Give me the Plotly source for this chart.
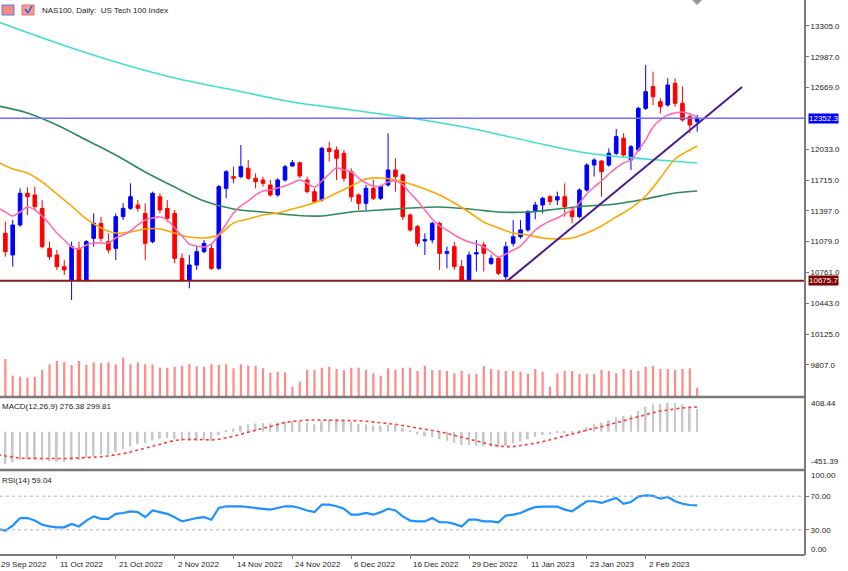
import plotly.graph_objects as go

# bar index 0 = 29 Sep 2022 ... 95 = 13 Feb 2023 (daily bars)
bar_idx = list(range(1, 96))
line_idx = list(range(0, 96))

opens = [11165, 10941, 11251, 11578, 11561, 11423, 11010, 10941, 10821, 10683,
         11010, 10683, 11113, 11268, 11079, 11010, 11337, 11423, 11457, 11371,
         11079, 11543, 11423, 11371, 10907, 10683, 10838, 10976, 11010, 10804,
         11629, 11750, 11750, 11836, 11733, 11716, 11664, 11561, 11715, 11860,
         11894, 11715, 11595, 11509, 12042, 12025, 11991, 11801, 11561, 11475,
         11629, 11526, 11664, 11819, 11767, 11354, 11234, 11086, 11096, 11268,
         10958, 11027, 10821, 10683, 10952, 11045, 10855, 10907, 10718, 11062,
         11130, 11200, 11389, 11457, 11543, 11509, 11543, 11406, 11337, 11612,
         11870, 11911, 11870, 11991, 12146, 11922, 12025, 12455, 12679, 12524,
         12489, 12713, 12507, 12369, 12317]
highs = [11285, 11303, 11629, 11640, 11647, 11509, 11079, 10993, 10890, 11079,
         11079, 11096, 11371, 11337, 11165, 11371, 11475, 11681, 11509, 11475,
         11595, 11578, 11509, 11406, 10958, 10941, 11027, 11096, 11062, 11664,
         11818, 11853, 12077, 11922, 11784, 11750, 11716, 11733, 11870, 11922,
         11905, 11750, 11629, 12059, 12111, 12059, 12025, 11836, 11578, 11664,
         11715, 11664, 12197, 11939, 11784, 11371, 11251, 11165, 11285, 11285,
         11027, 11079, 10890, 10976, 11096, 11079, 10941, 10924, 11079, 11300,
         11300, 11406, 11489, 11543, 11560, 11595, 11681, 11440, 11629, 11887,
         11939, 11922, 12042, 12242, 12197, 12077, 12472, 12902, 12833, 12558,
         12765, 12765, 12679, 12403, 12386]
lows = [10924, 10821, 11234, 11354, 11406, 11010, 10890, 10787, 10735, 10477,
        10666, 10666, 11027, 11079, 10958, 10890, 11303, 11406, 11389, 10890,
        11062, 11371, 11285, 10855, 10666, 10597, 10787, 10958, 10787, 10787,
        11526, 11681, 11733, 11716, 11629, 11647, 11543, 11543, 11698, 11853,
        11733, 11578, 11475, 11492, 11905, 11715, 11698, 11492, 11406, 11406,
        11509, 11509, 11647, 11595, 11303, 11182, 11027, 10941, 11062, 10787,
        10804, 10787, 10666, 10666, 10770, 10770, 10838, 10735, 10675, 11030,
        11110, 11182, 11310, 11371, 11457, 11457, 11337, 11268, 11320, 11595,
        11750, 11543, 11853, 11973, 11956, 11818, 12008, 12438, 12489, 12403,
        12472, 12472, 12317, 12197, 12214]
closes = [10976, 11251, 11578, 11543, 11440, 11027, 10924, 10821, 10787, 11027,
          10683, 11079, 11268, 11113, 10993, 11337, 11423, 11543, 11423, 11062,
          11578, 11406, 11320, 10907, 10683, 10838, 10976, 11062, 10804, 11647,
          11801, 11733, 11853, 11733, 11698, 11681, 11561, 11716, 11853, 11894,
          11757, 11595, 11492, 12042, 12008, 11939, 11733, 11543, 11475, 11629,
          11526, 11647, 11819, 11750, 11337, 11199, 11062, 11100, 11268, 10958,
          10976, 10821, 10683, 10941, 10965, 10958, 10907, 10752, 11027, 11130,
          11200, 11389, 11457, 11526, 11492, 11543, 11440, 11337, 11612, 11870,
          11922, 11801, 11991, 12163, 11973, 12059, 12455, 12627, 12575, 12472,
          12696, 12507, 12335, 12283, 12352.3]
volume = [370, 203, 193, 183, 193, 260, 317, 350, 343, 310,
          350, 310, 337, 327, 337, 317, 383, 317, 337, 317,
          317, 283, 283, 293, 303, 323, 297, 293, 317, 310,
          317, 277, 317, 303, 300, 277, 233, 243, 237, 93,
          143, 260, 260, 283, 293, 270, 260, 283, 283, 260,
          227, 203, 277, 260, 283, 283, 250, 303, 260, 260,
          250, 227, 250, 220, 220, 300, 270, 260, 250, 250,
          243, 220, 270, 243, 93, 227, 250, 250, 220, 220,
          220, 260, 250, 227, 270, 260, 250, 293, 300, 270,
          270, 260, 270, 277, 83]

ma_fast = [11426, 11385, 11344, 11385, 11437, 11406, 11344, 11261, 11168, 11096,
           11024, 11003, 11045, 11065, 11065, 11065, 11117, 11148, 11189, 11251,
           11303, 11323, 11334, 11303, 11220, 11137, 11055, 11034, 11024, 11055,
           11148, 11261, 11375, 11447, 11499, 11561, 11602, 11612, 11633, 11653,
           11684, 11715, 11684, 11643, 11705, 11777, 11839, 11819, 11798, 11736,
           11684, 11653, 11653, 11695, 11705, 11664, 11581, 11499, 11406, 11313,
           11241, 11199, 11148, 11107, 11076, 11055, 11024, 10972, 10921, 10952,
           10993, 11034, 11117, 11199, 11251, 11292, 11323, 11365, 11406, 11478,
           11571, 11643, 11705, 11777, 11839, 11891, 11922, 12025, 12128, 12262,
           12335, 12386, 12407, 12417, 12397, 12366]
ma20_idx = list(range(0, 96, 2)) + [95]
ma20 = [11901, 11829, 11788, 11695, 11571, 11447, 11313, 11220, 11168, 11179,
        11210, 11210, 11168, 11127, 11117, 11148, 11272, 11313, 11354, 11375,
        11416, 11457, 11509, 11581, 11653, 11726, 11736, 11715, 11674, 11623,
        11561, 11478, 11385, 11282, 11220, 11168, 11148, 11117, 11107, 11117,
        11168, 11241, 11334, 11426, 11550, 11736, 11932, 12025, 12066]
ma50_idx = list(range(0, 96, 4)) + [95]
ma50 = [12479, 12407, 12283, 12128, 11973, 11798, 11643, 11499, 11416, 11385,
        11354, 11344, 11385, 11406, 11426, 11437, 11416, 11385, 11385, 11416,
        11447, 11468, 11519, 11581, 11602]
ma200_idx = list(range(0, 96, 8)) + [95]
ma200 = [13346, 13129, 12933, 12768, 12644, 12520, 12438, 12355, 12252, 12118,
         11994, 11932, 11891]

macd_main = [-400, -390, -370, -340, -330, -330, -345, -355, -365, -370,
             -345, -345, -320, -290, -280, -275, -245, -210, -175, -150,
             -140, -105, -85, -75, -90, -110, -115, -110, -100, -110,
             -40, 10, 40, 70, 90, 100, 105, 100, 110, 120,
             130, 125, 110, 90, 125, 150, 160, 150, 120, 95,
             90, 75, 75, 85, 85, 50, 10, -30, -55, -65,
             -90, -110, -135, -160, -165, -170, -170, -180, -190, -170,
             -140, -120, -90, -65, -40, -30, -15, -10, -10, 15,
             55, 90, 110, 140, 175, 190, 200, 250, 300, 330,
             340, 350, 350, 330, 305, 276.38]
macd_signal = [-280, -295, -310, -320, -323, -325, -325, -325, -325, -324,
               -323, -320, -316, -310, -303, -292, -280, -265, -245, -222,
               -200, -175, -150, -125, -105, -95, -92, -93, -97, -100,
               -92, -75, -55, -30, -5, 20, 40, 65, 90, 112,
               125, 135, 140, 142, 142, 142, 142, 141, 138, 133,
               126, 118, 110, 100, 90, 75, 60, 45, 38, 20,
               0, -20, -40, -65, -90, -115, -141, -158, -172, -181,
               -180, -170, -155, -141, -120, -100, -75, -50, -30, -5,
               20, 45, 61, 85, 110, 135, 160, 182, 205, 230,
               250, 265, 280, 288, 295, 299.81]
rsi = [31, 29, 35, 44, 44, 41, 36, 34, 33, 33,
       37, 34, 41, 46, 43, 43, 49, 50, 52, 51,
       45, 53, 51, 49, 45, 40, 42, 44, 45, 42,
       56, 58, 58, 58, 57, 56, 55, 54, 56, 58,
       58, 56, 53, 51, 60, 60, 58, 55, 48, 48,
       50, 48, 51, 55, 53, 46, 41, 40, 40, 44,
       39, 39, 37, 34, 42, 42, 40, 40, 39, 47,
       48, 50, 54, 57, 57.5, 57.5, 57.5, 54, 52, 58,
       64, 64, 62, 65, 68, 61, 63, 69.5, 71, 70.5,
       67, 69, 64, 61, 59.5, 59.04]

level_blue = 12352.3
level_red = 10675.7
trend_x = [69.2, 101.1]
trend_y = [10673, 12675]

price_ticks = [13305, 12987, 12669, 12033, 11715, 11397, 11079, 10761, 10443, 10125, 9807]
date_idx = [0, 8, 16, 24, 32, 40, 48, 56, 64, 72, 80, 88]
date_labels = ["29 Sep 2022", "11 Oct 2022", "21 Oct 2022", "2 Nov 2022", "14 Nov 2022",
               "24 Nov 2022", "6 Dec 2022", "16 Dec 2022", "29 Dec 2022", "11 Jan 2023",
               "23 Jan 2023", "2 Feb 2023"]

X_RANGE = [0.272, 109.65]
H = 555.0  # plot area height in px
FONT = "Liberation Sans"
TXT = "#222222"


def py(px):
    # pixel row inside plot area -> paper y
    return (H - px) / H


fig = go.Figure()

fig.add_trace(go.Bar(x=bar_idx, y=volume, width=0.3, marker_color="#ff8a8a",
                     marker_line_width=0, yaxis="y4"))
fig.add_trace(go.Candlestick(
    x=bar_idx, open=opens, high=highs, low=lows, close=closes,
    increasing=dict(line=dict(color="#0000ff", width=1), fillcolor="#0000ff"),
    decreasing=dict(line=dict(color="#ff0000", width=1), fillcolor="#ff0000"),
    whiskerwidth=0, yaxis="y"))

for xs, ys, col in [(ma200_idx, ma200, "#40e0d0"), (ma50_idx, ma50, "#2e8b57"),
                    (ma20_idx, ma20, "#ffa500"), (line_idx, ma_fast, "#ff6eb4")]:
    fig.add_trace(go.Scatter(x=xs, y=ys, mode="lines", yaxis="y",
                             line=dict(color=col, width=1.6, shape="spline")))

fig.add_trace(go.Scatter(x=trend_x, y=trend_y, mode="lines", yaxis="y",
                         line=dict(color="#4b1c8c", width=2)))

fig.add_trace(go.Bar(x=line_idx, y=macd_main, width=0.25, marker_color="#c8c8c8",
                     marker_line_width=0, yaxis="y2"))
fig.add_trace(go.Scatter(x=line_idx, y=macd_signal, mode="lines", yaxis="y2",
                         line=dict(color="#ff3c3c", width=1.6, dash="dot")))

fig.add_trace(go.Scatter(x=line_idx, y=rsi, mode="lines", yaxis="y3",
                         line=dict(color="#1e90ff", width=2.2)))

shapes = [
    dict(type="line", xref="paper", yref="y", x0=0, x1=1, y0=level_blue, y1=level_blue,
         line=dict(color="#7070ff", width=1.5)),
    dict(type="line", xref="paper", yref="y", x0=0, x1=1, y0=level_red, y1=level_red,
         line=dict(color="#8b1a1a", width=2)),
    dict(type="line", xref="paper", yref="y3", x0=0, x1=1, y0=70, y1=70,
         line=dict(color="#b4b4b4", width=1, dash="dot")),
    dict(type="line", xref="paper", yref="y3", x0=0, x1=1, y0=30, y1=30,
         line=dict(color="#b4b4b4", width=1, dash="dot")),
    # panel separators and frame
    dict(type="line", xref="paper", yref="paper", x0=0, x1=1, y0=py(397), y1=py(397),
         line=dict(color="#7a7a7a", width=2.5)),
    dict(type="line", xref="paper", yref="paper", x0=0, x1=1, y0=py(470), y1=py(470),
         line=dict(color="#7a7a7a", width=2.5)),
    dict(type="line", xref="paper", yref="paper", x0=0, x1=1, y0=0, y1=0,
         line=dict(color="#7a7a7a", width=2)),
    dict(type="line", xref="paper", yref="paper", x0=1, x1=1, y0=0, y1=1,
         line=dict(color="#7a7a7a", width=2)),
    # header icons
    dict(type="rect", xref="paper", yref="paper", x0=2 / 805, x1=14 / 805, y0=py(15), y1=py(5),
         fillcolor="#f08a8a", line=dict(color="#5a7adf", width=1)),
    dict(type="rect", xref="paper", yref="paper", x0=22 / 805, x1=34 / 805, y0=py(15), y1=py(5),
         fillcolor="#f29a9a", line=dict(color="#e07070", width=1)),
    dict(type="line", xref="paper", yref="paper", x0=25 / 805, x1=28 / 805, y0=py(9), y1=py(13),
         line=dict(color="#3060d0", width=1.5)),
    dict(type="line", xref="paper", yref="paper", x0=28 / 805, x1=32 / 805, y0=py(13), y1=py(6),
         line=dict(color="#3060d0", width=1.5)),
    # small grey marker at the top edge
    dict(type="path", xref="paper", yref="paper",
         path=f"M {692 / 805} {py(0)} L {702 / 805} {py(0)} L {697 / 805} {py(5)} Z",
         fillcolor="#9a9a9a", line=dict(width=0)),
]

ann = [
    dict(text="NAS100, Daily:  US Tech 100 Index", x=40 / 805, y=py(10.5)),
    dict(text="MACD(12,26,9) 276.38 299.81", x=0, y=py(406.5)),
    dict(text="RSI(14) 59.04", x=0, y=py(480)),
]
annotations = []
for a in ann:
    annotations.append(dict(xref="paper", yref="paper", xanchor="left", yanchor="middle",
                            showarrow=False, font=dict(family=FONT, size=8, color=TXT), **a))

for txt, ypx in [("408.44", 403), ("-451.39", 462), ("100.00", 475), ("0.00", 549)]:
    annotations.append(dict(text=txt, xref="paper", yref="paper", x=1, y=py(ypx), xshift=4,
                            xanchor="left", yanchor="middle", showarrow=False,
                            font=dict(family=FONT, size=8, color=TXT)))

for lvl, bg in [(level_blue, "#0000ff"), (level_red, "#800000")]:
    annotations.append(dict(text=f"{lvl:.1f}", xref="paper", yref="y", x=1, y=lvl, xshift=3,
                            xanchor="left", yanchor="middle", showarrow=False, bgcolor=bg,
                            borderpad=0, font=dict(family=FONT, size=8, color="white")))

span = X_RANGE[1] - X_RANGE[0]
for i, lab in zip(date_idx, date_labels):
    annotations.append(dict(text=lab, xref="paper", yref="paper", x=(i - X_RANGE[0]) / span,
                            y=py(564), xshift=1, xanchor="left", yanchor="middle",
                            showarrow=False, font=dict(family=FONT, size=8, color=TXT)))

axis_font = dict(family=FONT, size=8, color=TXT)
fig.update_layout(
    width=848, height=571,
    margin=dict(l=0, r=43, t=0, b=16),
    paper_bgcolor="white", plot_bgcolor="white",
    showlegend=False,
    shapes=shapes, annotations=annotations,
    xaxis=dict(domain=[0, 1], range=X_RANGE, anchor="y3", rangeslider=dict(visible=False),
               tickvals=date_idx, showticklabels=False, ticks="outside", ticklen=3,
               tickcolor="#7a7a7a", showgrid=False, zeroline=False),
    yaxis=dict(domain=[py(396), 1], range=[9486, 13573], side="right", anchor="x",
               tickvals=price_ticks, ticktext=[f"{t}.0" for t in price_ticks],
               ticks="outside", ticklen=3, tickcolor="#7a7a7a", tickfont=axis_font,
               showgrid=False, zeroline=False),
    yaxis4=dict(overlaying="y", range=[0, 3960], visible=False),
    yaxis2=dict(domain=[py(469), py(398)], range=[-451.39, 408.44], side="right", anchor="x",
                showticklabels=False, showgrid=False, zeroline=False),
    yaxis3=dict(domain=[0, py(471)], range=[0, 100], side="right", anchor="x",
                tickvals=[70, 30], ticktext=["70.00", "30.00"], ticks="outside", ticklen=3,
                tickcolor="#7a7a7a", tickfont=axis_font, showgrid=False, zeroline=False),
)

fig.write_html("out.html", config={"displayModeBar": False},
               post_script="document.body.style.margin='0px';")
